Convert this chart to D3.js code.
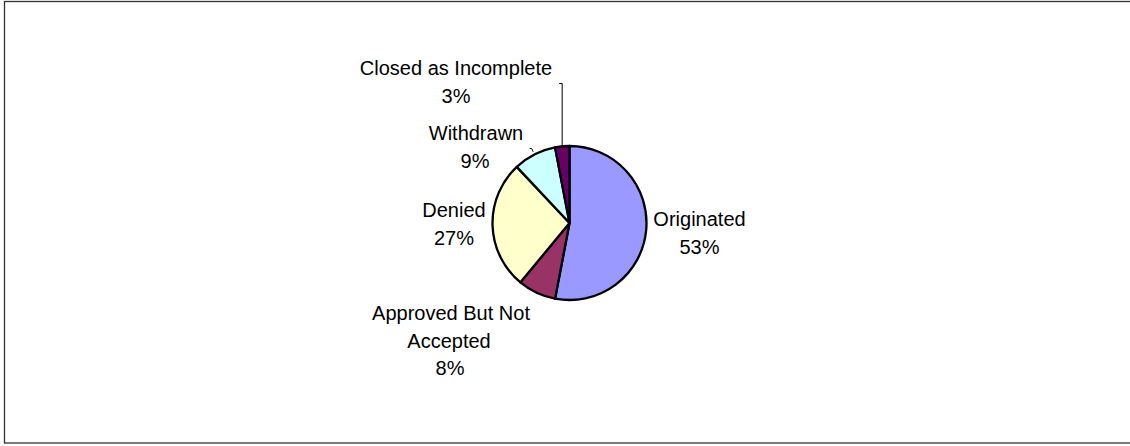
<!DOCTYPE html>
<html>
<head>
<meta charset="utf-8">
<script src="https://cdn.jsdelivr.net/npm/d3@7"></script>
<style>
  html, body { margin: 0; padding: 0; background: #fff; }
  svg { display: block; }
  text { font-family: "Liberation Sans", Arial, sans-serif; font-size: 20px; fill: #000; }
</style>
</head>
<body>
<svg id="chart" width="1130" height="446"></svg>
<script>
// Loan application outcomes (percent of applications)
const categories = ["Originated", "Approved But Not Accepted", "Denied", "Withdrawn", "Closed as Incomplete"];
const values = [53, 8, 27, 9, 3];
const colors = ["#9999FF", "#993366", "#FFFFCC", "#CCFFFF", "#660066"];
// Label text lines per slice (name broken across lines, then the percentage)
const labelLines = [
  ["Originated"],
  ["Approved But Not", "Accepted"],
  ["Denied"],
  ["Withdrawn"],
  ["Closed as Incomplete"]
];

// Layout
const width = 1130, height = 446;
const cx = 569.5, cy = 223, radius = 77;
const lineGap = 27.5;
// Label anchors: centre x and first-line baseline y for each slice
const labelAnchor = [
  { x: 699.5, y: 226 },
  { x: 450, y: 320 },
  { x: 454, y: 217 },
  { x: 476, y: 140 },
  { x: 456, y: 75 }
];
// Per-line x nudges (keeps the multi-line labels aligned as drawn)
const lineNudge = [
  [0, 0],
  [1, -1, 0],
  [0, 0],
  [0, -1],
  [0, 0]
];

const svg = d3.select("#chart");

// Outer frame
svg.append("rect")
  .attr("x", 4.5).attr("y", 1.5)
  .attr("width", width).attr("height", 441.5)
  .attr("fill", "none")
  .attr("stroke", "#333")
  .attr("stroke-width", 1.3);

const pie = d3.pie().sort(null).value(d => d);
const arcs = pie(values);
const arc = d3.arc().innerRadius(0).outerRadius(radius);

const g = svg.append("g").attr("transform", `translate(${cx},${cy})`);

g.selectAll("path.slice")
  .data(arcs)
  .join("path")
  .attr("class", "slice")
  .attr("d", arc)
  .attr("fill", (d, i) => colors[i])
  .attr("stroke", "#000")
  .attr("stroke-width", 2.3)
  .attr("stroke-linejoin", "round");

// Leader lines for the two narrow slices at the top
const edgePoint = (d, r) => {
  const a = (d.startAngle + d.endAngle) / 2;
  return [cx + r * Math.sin(a), cy - r * Math.cos(a)];
};

// Closed as Incomplete: vertical leader up to the label
{
  const [ex, ey] = edgePoint(arcs[4], radius + 1);
  svg.append("path")
    .attr("d", `M${ex - 3},83.5 L${ex},83.5 L${ex},${ey}`)
    .attr("fill", "none")
    .attr("stroke", "#000")
    .attr("stroke-width", 1);
}
// Withdrawn: short hook
{
  const [ex, ey] = edgePoint(arcs[3], radius + 3);
  svg.append("path")
    .attr("d", `M${ex - 3.5},148.5 L${ex - 1.5},148.5 L${ex},${ey}`)
    .attr("fill", "none")
    .attr("stroke", "#000")
    .attr("stroke-width", 1);
}

// Labels
arcs.forEach((d, i) => {
  const lines = labelLines[i].concat([values[i] + "%"]);
  const t = svg.append("text")
    .attr("text-anchor", "middle");
  lines.forEach((ln, j) => {
    t.append("tspan")
      .attr("x", labelAnchor[i].x + (lineNudge[i][j] || 0))
      .attr("y", labelAnchor[i].y + j * lineGap)
      .text(ln);
  });
});
</script>
</body>
</html>
